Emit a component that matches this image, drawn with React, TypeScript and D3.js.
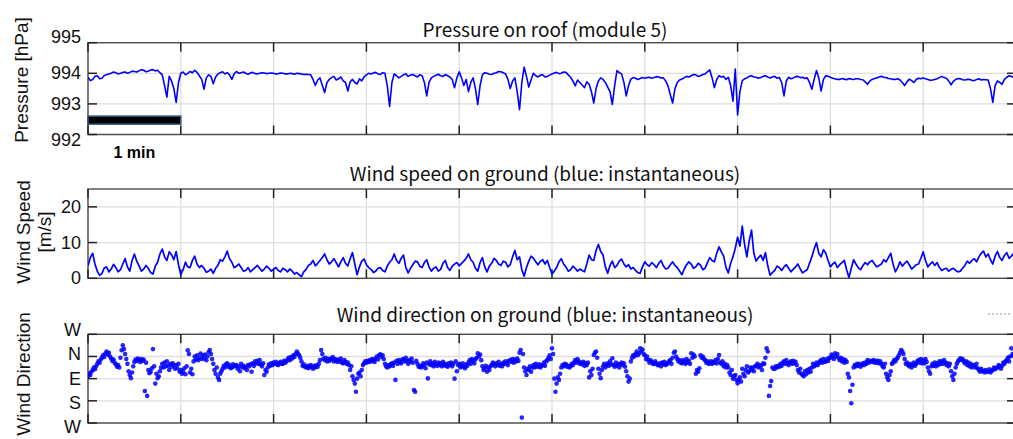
import React from 'react';
import * as d3 from 'd3';

// sampling steps of the typed series, in minutes
const STEP = 0.025;
const DIR_STEP = 0.0125;

// pressure on roof [hPa], one value per 0.025 min
const pressure = [
  993.87, 993.76, 993.80, 993.90, 993.92, 993.82, 993.84, 993.93, 993.95, 993.98, 994.00, 994.04, 994.02, 993.98, 994.00, 994.03, 994.04, 994.00, 994.03, 994.07,
  994.06, 994.04, 994.08, 994.12, 994.10, 994.05, 994.07, 994.11, 994.12, 994.08, 994.10, 994.02, 993.95, 993.60, 993.22, 993.90, 993.75, 993.50, 993.05, 993.70,
  994.00, 994.04, 993.95, 994.00, 994.06, 994.02, 994.10, 994.03, 993.92, 993.80, 993.48, 993.85, 993.95, 993.90, 993.66, 993.88, 993.98, 994.02, 994.05, 993.98,
  994.02, 993.95, 993.80, 993.98, 994.06, 994.00, 994.02, 994.04, 994.00, 993.97, 994.01, 994.03, 993.99, 993.98, 994.00, 994.02, 994.01, 993.99, 994.00, 994.01,
  994.00, 993.98, 993.99, 994.01, 994.00, 993.98, 993.98, 994.00, 993.99, 993.97, 994.00, 993.99, 993.98, 993.96, 993.97, 993.96, 993.95, 993.80, 993.60, 993.78,
  993.85, 993.60, 993.37, 993.70, 993.80, 993.86, 993.90, 993.78, 993.82, 993.88, 993.75, 993.70, 993.42, 993.72, 993.80, 993.70, 993.65, 993.82, 993.75, 993.88,
  993.95, 994.00, 993.98, 994.01, 994.03, 993.98, 993.96, 994.02, 994.00, 993.60, 992.92, 993.70, 993.98, 993.92, 993.85, 993.90, 993.95, 993.98, 993.90, 993.94,
  993.96, 993.92, 993.88, 993.95, 993.92, 993.70, 993.26, 993.70, 993.85, 993.90, 993.94, 993.97, 993.92, 993.90, 993.96, 993.92, 993.88, 993.80, 993.53, 993.85,
  994.05, 993.85, 993.60, 993.80, 993.40, 993.70, 993.85, 993.50, 992.98, 993.60, 993.95, 994.02, 994.00, 993.97, 993.96, 994.00, 994.02, 994.06, 994.05, 994.02,
  993.98, 993.80, 993.50, 993.75, 993.85, 993.40, 992.81, 993.70, 994.20, 993.90, 993.55, 993.80, 994.00, 993.92, 993.88, 993.94, 993.95, 993.88, 993.90, 993.94,
  993.98, 994.01, 994.03, 993.99, 994.00, 994.04, 994.03, 993.95, 993.87, 993.75, 993.59, 993.78, 993.70, 993.62, 993.53, 993.72, 993.64, 993.40, 993.03, 993.50,
  993.75, 993.85, 993.80, 993.70, 993.55, 993.40, 992.98, 993.60, 994.09, 994.02, 993.98, 993.70, 993.26, 993.60, 993.81, 993.86, 993.84, 993.80, 993.83, 993.86,
  993.84, 993.86, 993.87, 993.84, 993.86, 993.89, 993.88, 993.85, 993.85, 993.75, 993.59, 993.30, 993.03, 993.50, 993.70, 993.78, 993.81, 993.86, 993.90, 993.88,
  993.92, 993.96, 993.95, 993.90, 993.92, 993.96, 993.98, 994.05, 994.11, 993.85, 993.53, 993.80, 993.92, 993.88, 993.90, 993.80, 993.87, 993.60, 993.09, 994.14,
  992.64, 993.40, 993.76, 993.82, 993.85, 993.90, 993.92, 993.88, 993.87, 993.84, 993.86, 993.90, 993.92, 993.88, 993.85, 993.88, 993.90, 993.84, 993.86, 993.70,
  993.26, 993.75, 993.87, 993.82, 993.85, 993.89, 993.90, 993.86, 993.87, 993.83, 993.85, 993.70, 993.48, 993.80, 994.09, 993.85, 993.42, 993.80, 993.92, 993.90,
  993.87, 993.84, 993.82, 993.80, 993.80, 993.83, 993.81, 993.79, 993.83, 993.81, 993.80, 993.82, 993.82, 993.80, 993.79, 993.72, 993.64, 993.75, 993.80, 993.83,
  993.85, 993.88, 993.90, 993.87, 993.86, 993.83, 993.82, 993.80, 993.80, 993.82, 993.78, 993.70, 993.60, 993.72, 993.81, 993.76, 993.70, 993.80, 993.84, 993.82,
  993.85, 993.82, 993.80, 993.77, 993.78, 993.80, 993.82, 993.86, 993.90, 993.86, 993.84, 993.75, 993.62, 993.74, 993.80, 993.83, 993.82, 993.79, 993.78, 993.80,
  993.80, 993.77, 993.76, 993.80, 993.82, 993.78, 993.80, 993.79, 993.78, 993.50, 993.05, 993.60, 993.75, 993.70, 993.64, 993.80, 993.87, 993.92, 993.90, 993.86,
  993.88,
];

// wind speed on ground [m/s], one value per 0.025 min
const windSpeed = [
  3.5, 5.8, 7.0, 4.0, 2.0, 0.8, 1.3, 2.9, 3.2, 1.8, 2.6, 3.9, 3.0, 1.8, 2.4, 4.0, 5.5, 3.2, 2.0, 5.0,
  6.8, 4.8, 3.5, 2.0, 2.6, 3.6, 2.8, 1.6, 1.2, 3.4, 4.5, 6.8, 8.2, 6.0, 5.0, 7.4, 6.6, 5.2, 7.5, 3.8,
  1.0, 2.4, 4.5, 3.2, 3.0, 5.0, 6.2, 4.0, 3.0, 3.6, 2.8, 1.7, 2.0, 2.6, 1.4, 2.8, 3.6, 5.2, 4.8, 6.0,
  7.6, 5.5, 4.5, 3.0, 3.4, 4.0, 3.0, 2.0, 2.2, 3.0, 1.8, 2.4, 3.0, 3.6, 2.8, 2.0, 2.6, 3.4, 2.8, 2.0,
  2.6, 3.0, 2.2, 1.8, 2.8, 2.4, 1.8, 2.6, 2.0, 1.2, 1.6, 1.0, 0.5, 1.8, 2.5, 3.6, 4.0, 5.0, 3.5, 4.2,
  5.0, 5.8, 6.8, 5.2, 4.0, 4.6, 5.5, 4.4, 3.2, 4.6, 5.8, 4.2, 3.5, 5.5, 7.2, 4.0, 1.0, 3.2, 4.8, 5.4,
  3.8, 3.0, 2.5, 1.6, 2.0, 2.8, 3.0, 2.2, 1.8, 3.4, 4.5, 5.2, 6.8, 5.0, 4.2, 5.6, 6.5, 3.0, 1.5, 2.8,
  3.8, 4.8, 4.6, 3.4, 3.0, 4.4, 5.2, 3.2, 2.0, 2.8, 3.2, 2.0, 2.5, 4.2, 5.0, 3.0, 2.2, 3.4, 4.0, 4.4,
  3.5, 4.2, 4.8, 5.6, 6.8, 5.2, 4.5, 2.8, 2.0, 4.4, 5.8, 3.2, 1.8, 3.4, 4.2, 5.6, 5.0, 4.0, 3.6, 4.8,
  4.5, 3.2, 3.8, 6.0, 7.8, 5.2, 6.0, 2.4, 0.6, 3.0, 4.8, 6.2, 5.6, 4.6, 3.8, 4.8, 5.2, 4.0, 5.0, 3.0,
  1.2, 2.0, 3.0, 4.6, 5.5, 4.0, 3.2, 2.0, 2.4, 3.4, 2.8, 2.0, 2.6, 2.2, 1.8, 4.0, 6.5, 5.2, 5.0, 7.8,
  9.5, 7.5, 6.5, 3.2, 1.4, 3.6, 4.8, 3.0, 3.6, 4.8, 5.4, 4.0, 3.2, 3.8, 2.6, 3.0, 2.2, 1.6, 1.4, 3.2,
  4.6, 3.8, 3.4, 4.4, 3.8, 3.0, 4.2, 5.0, 3.5, 2.6, 2.8, 3.8, 4.6, 3.6, 3.0, 2.0, 1.0, 2.6, 3.8, 4.6,
  4.0, 2.8, 3.2, 4.2, 3.7, 2.4, 2.8, 4.4, 5.8, 5.0, 4.6, 7.0, 8.8, 7.4, 6.2, 3.0, 1.5, 4.2, 6.0, 8.4,
  11.5, 9.0, 14.6, 9.5, 6.0, 10.5, 13.5, 7.0, 4.8, 5.8, 6.5, 5.0, 7.2, 3.5, 0.9, 1.6, 2.2, 3.4, 3.0, 2.2,
  3.2, 3.8, 2.8, 1.8, 2.6, 3.2, 4.0, 2.6, 1.5, 2.0, 2.4, 4.2, 6.0, 8.2, 10.0, 7.0, 6.0, 8.0, 7.0, 5.0,
  3.2, 4.0, 4.5, 3.0, 3.8, 4.4, 5.0, 2.4, 0.2, 2.8, 5.2, 4.0, 3.0, 2.4, 3.5, 4.4, 3.8, 4.6, 5.0, 4.0,
  3.2, 3.6, 4.0, 5.2, 4.6, 5.8, 7.0, 4.0, 1.8, 3.0, 4.6, 3.4, 4.2, 4.8, 3.8, 2.6, 3.2, 3.8, 4.0, 5.6,
  7.4, 5.0, 3.2, 4.0, 4.6, 3.6, 4.4, 3.0, 2.2, 2.6, 2.8, 2.0, 2.5, 2.8, 2.2, 1.8, 2.0, 2.8, 3.6, 4.8,
  4.2, 5.0, 5.5, 4.6, 6.0, 7.0, 7.6, 6.0, 6.8, 5.2, 4.0, 6.2, 7.5, 5.8, 5.0, 6.4, 7.2, 5.6, 6.2, 7.0,
  5.5,
];

// wind direction [deg, 0 = N, 90 = E], one value per 0.0125 min
const windDir = [
  // minute 0
  80, 68, 75, 62, 55, 45, 52, 40, 30, 20, 25, 12, 5, -5, 2, -12, -20, -8, -15, 0,
  8, 18, 12, 25, 32, 42, 35, 45, 5, -25, -45, -30, -10, 10, 30, 60, 75, 88, 65, 40,
  22, 12, 18, 8, 15, 22, 10, 18, 12, 140, 25, 160, 55, 68, 62, 48, -30, 40, 110, 70,
  88, 80, 60, 45, 30, 45, 25, 40, 20, 38, 55, 30, 42, 28, 35, 50, 35, 48, 30, 62,
  // minute 1
  55, 70, 62, 48, 72, 40, -25, -10, 65, 50, 72, 20, 0, 12, -5, 15, 5, -12, 10, -5,
  8, -8, 15, 0, -18, -26, -10, 10, 30, 55, 70, 45, 85, 95, 70, 60, 50, 38, 45, 32,
  28, 42, 35, 48, 45, 32, 40, 38, 35, 50, 42, 60, 30, 44, 38, 48, 42, 55, 35, 40,
  32, 62, 28, 38, 20, 28, 18, 30, 15, 32, 40, 28, 75, 55, 62, 45, 32, 38, 28, 35,
  // minute 2
  25, 30, 22, 32, 35, 28, 22, 30, 30, 18, 25, 20, 12, 5, 15, 2, 8, -5, 2, -10,
  -20, -12, -5, 5, 20, 38, 32, 42, 45, 38, 48, 40, 35, 44, 50, 38, 45, 36, 42, 30,
  15, -26, -10, 8, 14, 5, 20, 10, 18, 8, 12, 2, 20, 10, 15, 22, 12, 20, 8, 25,
  28, 15, 22, 30, 25, 35, 55, 40, 80, 95, 110, 143, 90, 70, 65, 80, 55, 35, 28, 20,
  // minute 3
  25, 18, 22, 15, 20, 10, 15, 22, 8, 0, 12, -5, -9, 2, -5, 10, 30, 40, 45, 35,
  40, 32, 28, 38, 25, 95, 18, 30, 15, 22, 28, 12, 10, 20, 5, 18, 30, 15, 22, 8,
  25, 136, 143, 18, 30, 42, 38, 45, 40, 28, 35, 48, 25, 89, 32, 20, 35, 28, 40, 22,
  32, 38, 25, 35, 28, 40, 22, 36, 30, 38, 42, 28, 35, 25, 40, 30, 90, 20, 60, 35,
  // minute 4
  30, 45, 38, 28, 42, 48, 32, 38, 25, 15, 30, 10, 18, 28, 12, 5, -13, 0, -8, 15,
  40, 55, 48, 38, 62, 45, 55, 40, 35, 25, 30, 40, 28, 35, 22, 38, 32, 40, 25, 30,
  20, 28, 35, 18, 15, 22, 10, 25, 12, 20, 8, 18, -15, -26, 248, -10, 45, 60, 75, 50,
  55, 40, 62, 45, 35, 45, 30, 42, 40, 32, 45, 38, 35, 25, 38, 20, 15, 5, -5, 10,
  // minute 5
  -33, -10, 90, 143, 110, 85, 95, 70, 45, 35, 40, 30, 32, 42, 38, 45, 40, 30, 35, 25,
  15, 25, 10, 20, 30, 25, 32, 22, 38, 28, 35, 25, 85, 60, 75, 50, -6, -15, -20, 5,
  50, 70, 88, 55, 40, 30, 45, 35, 28, 38, 20, 32, 7, 35, 42, 25, 38, 30, 45, 32,
  25, 35, 28, 42, 60, 80, 102, 90, 20, 5, -5, 0, -10, -20, -5, -13, -33, -20, -28, -10,
  // minute 6
  -5, 10, 0, 15, 25, 15, 22, 30, 30, 20, 28, 35, 35, 28, 40, 25, 32, 22, 35, 30,
  28, 20, 15, 30, 5, -15, -20, 0, 10, 20, 15, 25, 28, 15, 22, 30, 10, 25, 18, 30,
  -13, 5, -8, 0, 70, 55, 62, 48, -5, 5, 0, 10, 15, 25, 20, 30, 28, 20, 30, 22,
  25, 15, 28, 10, -6, 25, 30, 20, 40, 30, 45, 35, 45, 65, 75, 55, 90, 80, 75, 95,
  // minute 7
  109, 95, 85, 102, 50, 70, 80, 55, 40, 65, 60, 45, 55, 45, 60, 40, 38, 30, 45, 35,
  40, 55, 28, 30, 5, -33, -20, 160, 120, 100, 45, 50, 50, 40, 45, 38, 42, 30, 38, 25,
  20, 30, 15, 28, 35, 25, 20, 30, 18, 28, 22, 35, 55, 65, 50, 70, 75, 80, 60, 72,
  55, 65, 50, 62, 45, 30, 40, 35, 25, 35, 28, 20, 15, 25, 10, 22, 20, 10, 18, 5,
  // minute 8
  5, -8, 0, 10, -13, 0, -10, 5, 15, 5, 20, 10, 25, 15, 22, 70, 85, 140, 190, 115,
  45, 35, 40, 30, 38, 30, 42, 35, 28, 35, 25, 30, 15, 25, 18, 22, 20, 15, 25, 18,
  25, 18, 28, 20, 30, 40, 45, 30, 70, 85, 95, 75, 60, 30, 25, 15, 20, 10, 5, -5,
  -15, -26, -20, -10, 10, 30, 25, 35, 40, 30, 45, 35, 25, 38, 30, 20, 15, 25, 10, 28,
  // minute 9
  15, 28, 10, 22, 45, 60, 70, 40, 30, 38, 25, 40, 28, 35, 20, 30, 20, 30, 15, 25,
  35, 28, 40, 30, 60, 80, 95, 70, 45, 30, 20, 14, 7, 14, 10, 20, 28, 20, 35, 25,
  40, 30, 45, 35, 38, 45, 30, 48, 55, 62, 50, 60, 58, 65, 55, 62, 60, 52, 65, 58,
  55, 45, 52, 48, 45, 35, 40, 50, 38, 25, 30, 20, 15, 5, 20, 0, -33, -10, -5, 0,
  0,
];

const timeTicks = [0, 1, 2, 3, 4, 5, 6, 7, 8, 9, 10];
const pressureTicks = [992, 993, 994, 995];
const speedTicks = [0, 10, 20];
const dirTicks = [-90, 0, 90, 180, 270];
const dirLabels = ['W', 'N', 'E', 'S', 'W'];

// scale bar: length in minutes, drawn at this pressure level
const scaleBar = { start: 0, length: 1, level: 992.47, label: '1 min' };

const BLUE = '#0000ff';
const GRID = '#dedede';
const AXIS = '#4d4d4d';
const TICK_FONT = "'Liberation Sans', Arial, sans-serif";
const TITLE_FONT = "'Noto Sans CJK JP', 'Noto Sans', sans-serif";

const x = d3.scaleLinear().domain([0, 10]).range([88, 1016]);

type YAxis = {
  y: d3.ScaleLinear<number, number>;
  ticks: number[];
  labels: string[];
  labelShift?: (i: number) => number;
};

const Frame = ({ y, ticks, labels, labelShift }: YAxis) => {
  const [top, bottom] = [y.range()[1], y.range()[0]].sort((a, b) => a - b);
  const [left, right] = x.range();
  const tl = 9;
  return (
    <g>
      {timeTicks.map(t => (
        <line key={'gx' + t} x1={x(t)} x2={x(t)} y1={top} y2={bottom} stroke={GRID} strokeWidth={1.3} />
      ))}
      {ticks.map(v => (
        <line key={'gy' + v} x1={left} x2={right} y1={y(v)} y2={y(v)} stroke={GRID} strokeWidth={1.3} />
      ))}
      <rect x={left} y={top} width={right - left} height={bottom - top} fill="none" stroke={AXIS} strokeWidth={1.4} />
      {timeTicks.map(t => (
        <g key={'tx' + t} stroke="#222" strokeWidth={1.5}>
          <line x1={x(t)} x2={x(t)} y1={top} y2={top + tl} />
          <line x1={x(t)} x2={x(t)} y1={bottom} y2={bottom - tl} />
        </g>
      ))}
      {ticks.map(v => (
        <g key={'ty' + v} stroke="#222" strokeWidth={1.5}>
          <line x1={left} x2={left + tl} y1={y(v)} y2={y(v)} />
          <line x1={right} x2={right - tl} y1={y(v)} y2={y(v)} />
        </g>
      ))}
      {ticks.map((v, i) => (
        <text
          key={'ly' + v}
          x={left - 7}
          y={y(v) + (labelShift ? labelShift(i) : 0)}
          textAnchor="end"
          dominantBaseline="central"
          fontFamily={TICK_FONT}
          fontSize={18}
          fill="#111"
        >
          {labels[i]}
        </text>
      ))}
    </g>
  );
};

const Title = ({ cy, text }: { cy: number; text: string }) => (
  <text x={545} y={cy} textAnchor="middle" dominantBaseline="central" fontFamily={TITLE_FONT} fontSize={19} fill="#111">
    {text}
  </text>
);

const YTitle = ({ cx, cy, lines }: { cx: number; cy: number; lines: string[] }) => (
  <text
    transform={`translate(${cx},${cy}) rotate(-90)`}
    textAnchor="middle"
    fontFamily={TICK_FONT}
    fontSize={19}
    fill="#111"
  >
    {lines.map((l, i) => (
      <tspan key={i} x={0} y={(i - (lines.length - 1) / 2) * 21} dominantBaseline="central">
        {l}
      </tspan>
    ))}
  </text>
);

export default function App() {
  const yP = d3.scaleLinear().domain([992, 995]).range([134.5, 42.7]);
  const yS = d3.scaleLinear().domain([0, 25]).range([278.3, 189]);
  const yD = d3.scaleLinear().domain([270, -90]).range([423, 334.3]);

  const pLine = d3.line<number>().x((_, i) => x(i * STEP)).y(d => yP(d));
  const sLine = d3.line<number>().x((_, i) => x(i * STEP)).y(d => yS(d));

  const outerShift = (n: number) => (i: number) => (i === 0 ? 5 : i === n - 1 ? -6 : 0);
  const dirShift = (i: number) => (i - 2) * 2;

  return (
    <svg width={1013} height={439} style={{ position: 'absolute', left: 0, top: 0, background: '#fff' }}>
      <defs>
        {['p', 's', 'd'].map((k, i) => {
          const yy = [yP, yS, yD][i];
          const r = yy.range();
          return (
            <clipPath id={'clip-' + k} key={k}>
              <rect x={x(0)} y={Math.min(r[0], r[1])} width={x(10) - x(0)} height={Math.abs(r[0] - r[1])} />
            </clipPath>
          );
        })}
      </defs>

      {/* Pressure panel */}
      <Title cy={28} text="Pressure on roof (module 5)" />
      <Frame y={yP} ticks={pressureTicks} labels={pressureTicks.map(String)} labelShift={outerShift(pressureTicks.length)} />
      <path d={pLine(pressure) || ''} fill="none" stroke={BLUE} strokeWidth={1.6} strokeLinejoin="round" clipPath="url(#clip-p)" />
      <rect
        x={x(scaleBar.start)}
        y={yP(scaleBar.level) - 4}
        width={x(scaleBar.start + scaleBar.length) - x(scaleBar.start)}
        height={8}
        fill="#000"
        stroke="#2f5282"
        strokeWidth={1.5}
      />
      <text
        x={x(scaleBar.start + scaleBar.length / 2)}
        y={152}
        textAnchor="middle"
        dominantBaseline="central"
        fontFamily={TICK_FONT}
        fontWeight="bold"
        fontSize={16}
        fill="#000"
      >
        {scaleBar.label}
      </text>
      <YTitle cx={21} cy={80} lines={['Pressure [hPa]']} />

      {/* Wind speed panel */}
      <Title cy={172} text="Wind speed on ground (blue: instantaneous)" />
      <Frame y={yS} ticks={speedTicks} labels={speedTicks.map(String)} />
      <path d={sLine(windSpeed) || ''} fill="none" stroke={BLUE} strokeWidth={1.7} strokeLinejoin="round" clipPath="url(#clip-s)" />
      <YTitle cx={34} cy={232} lines={['Wind Speed', '[m/s]']} />

      {/* Wind direction panel */}
      <Title cy={313} text="Wind direction on ground (blue: instantaneous)" />
      <Frame y={yD} ticks={dirTicks} labels={dirLabels} labelShift={dirShift} />
      <g clipPath="url(#clip-d)">
        {windDir.map((d, i) => (
          <circle key={i} cx={x(i * DIR_STEP)} cy={yD(d)} r={2.3} fill={BLUE} fillOpacity={0.85} />
        ))}
      </g>
      <line x1={988} x2={1010} y1={314} y2={314} stroke="#9a9a9a" strokeWidth={1} strokeDasharray="2,2" />
      <YTitle cx={23} cy={374} lines={['Wind Direction']} />
    </svg>
  );
}
